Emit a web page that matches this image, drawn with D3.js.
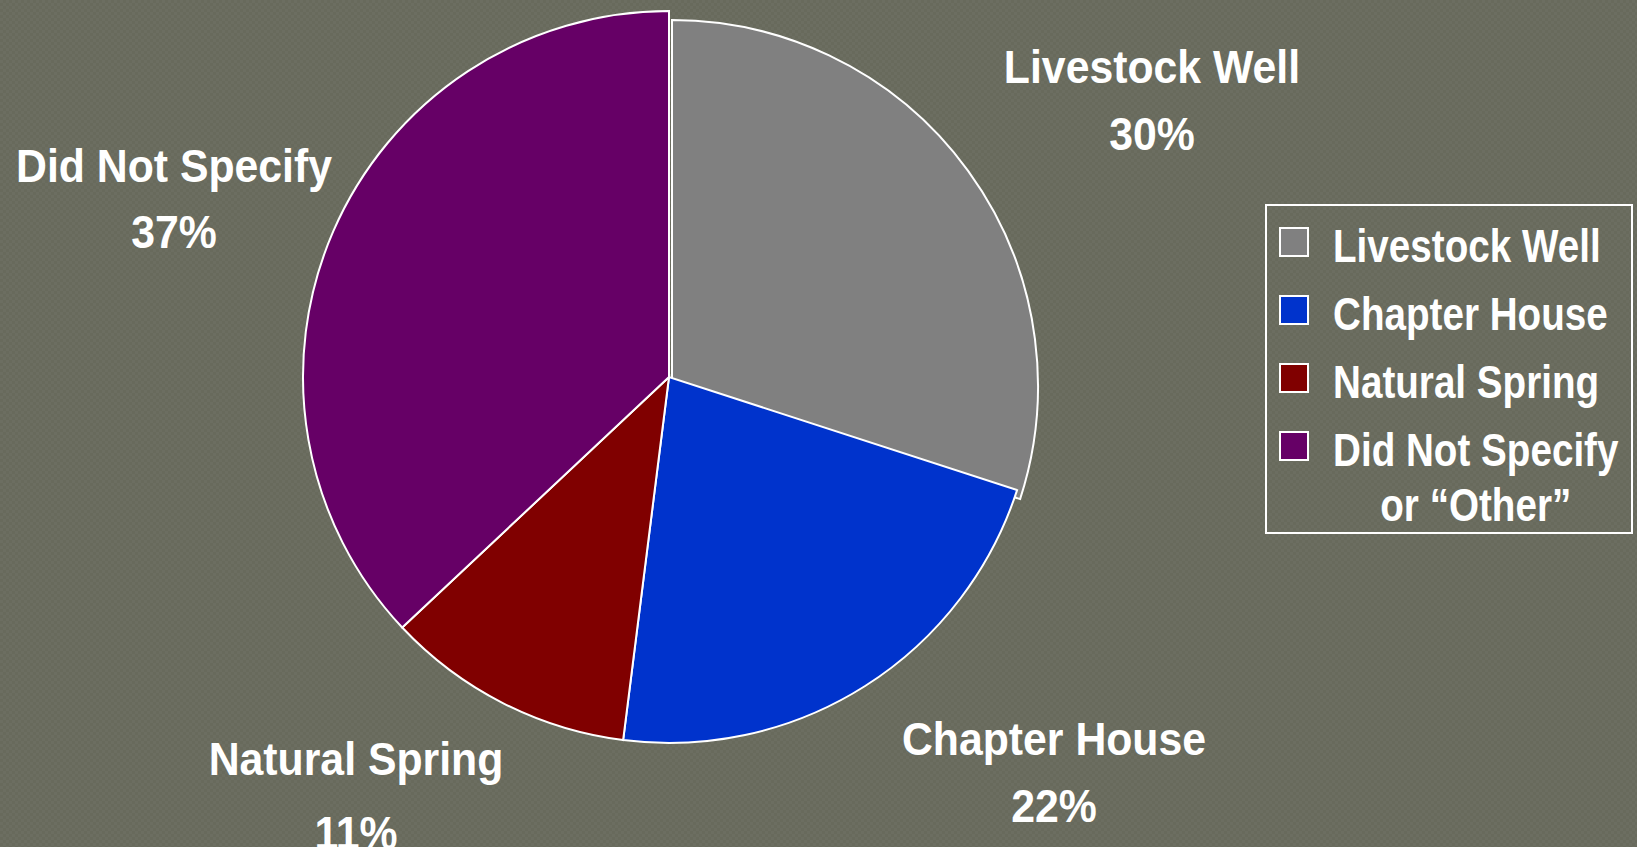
<!DOCTYPE html>
<html>
<head>
<meta charset="utf-8">
<script src="https://cdn.jsdelivr.net/npm/d3@7"></script>
<style>
  html, body { margin: 0; padding: 0; background: #686a5c; }
  svg { display: block; }
</style>
</head>
<body>
<script>
// water source shares
const categories = ["Livestock Well", "Chapter House", "Natural Spring", "Did Not Specify"];
const values = [30, 22, 11, 37];
const colors = ["#808080", "#0033cc", "#800000", "#660066"];
const legendLabels = [["Livestock Well"], ["Chapter House"], ["Natural Spring"], ["Did Not Specify", "or \u201cOther\u201d"]];

const width = 1637;
const height = 847;

const cx = 669, cy = 377, radius = 366;

// where each outside label sits (centre x, first baseline, gap to 2nd line)
const labelPos = {
    "Livestock Well": [1152, 83, 67],
    "Chapter House": [1054, 755, 67],
    "Natural Spring": [356, 775, 74],
    "Did Not Specify": [174, 182, 66]
};

const data = categories.map((c, i) => ({ name: c, value: values[i], color: colors[i] }));

const svg = d3.select("body").append("svg")
    .attr("width", width)
    .attr("height", height);

// faint checker texture of the slide background
const pat = svg.append("defs").append("pattern")
    .attr("id", "bg")
    .attr("width", 6)
    .attr("height", 6)
    .attr("patternUnits", "userSpaceOnUse");
pat.append("rect").attr("width", 6).attr("height", 6).attr("fill", "#686a5c");
pat.append("rect").attr("width", 3).attr("height", 3).attr("fill", "#6c6e61");
pat.append("rect").attr("x", 3).attr("y", 3).attr("width", 3).attr("height", 3).attr("fill", "#6c6e61");

svg.append("rect")
    .attr("width", width)
    .attr("height", height)
    .attr("fill", "url(#bg)");

const pie = d3.pie().sort(null).value(d => d.value);
const arc = d3.arc().innerRadius(0).outerRadius(radius);
const arcs = pie(data);

const g = svg.append("g")
    .attr("transform", `translate(${cx},${cy})`);

// first slice is nudged a little, the others are drawn over it
g.selectAll("path")
    .data(arcs)
    .join("path")
    .attr("d", arc)
    .attr("fill", d => d.data.color)
    .attr("stroke", "#fff")
    .attr("stroke-width", 2)
    .attr("stroke-linejoin", "miter")
    .attr("transform", (d, i) => i === 0 ? "translate(3,9)" : null);

const labels = svg.selectAll(".slice-label")
    .data(data)
    .join("g")
    .attr("class", "slice-label")
    .attr("transform", d => `translate(${labelPos[d.name][0]},${labelPos[d.name][1]}) scale(0.91,1)`);

labels.selectAll("text")
    .data(d => [d.name, d.value + "%"].map((t, i) => ({ t, i, gap: labelPos[d.name][2] })))
    .join("text")
    .attr("text-anchor", "middle")
    .attr("y", d => d.i * d.gap)
    .attr("fill", "#fff")
    .attr("font-family", "'Liberation Sans', Arial, sans-serif")
    .attr("font-weight", "bold")
    .attr("font-size", 47)
    .text(d => d.t);

// legend
const legend = svg.append("g");

legend.append("rect")
    .attr("x", 1266)
    .attr("y", 205)
    .attr("width", 366)
    .attr("height", 328)
    .attr("fill", "none")
    .attr("stroke", "#fff")
    .attr("stroke-width", 2);

const rowY = d3.scalePoint().domain(categories).range([228, 432]);

const rows = legend.selectAll(".row")
    .data(data)
    .join("g")
    .attr("class", "row")
    .attr("transform", d => `translate(1280,${rowY(d.name)})`);

rows.append("rect")
    .attr("width", 28)
    .attr("height", 28)
    .attr("fill", d => d.color)
    .attr("stroke", "#fff")
    .attr("stroke-width", 2);

rows.each(function(d, i) {
    const lines = legendLabels[i];
    const t = d3.select(this).append("g")
        .attr("transform", "translate(53,34) scale(0.84,1)");
    lines.forEach((line, j) => {
        t.append("text")
            .attr("x", j === 0 ? 0 : 170)
            .attr("y", j * 55)
            .attr("text-anchor", j === 0 ? "start" : "middle")
            .attr("fill", "#fff")
            .attr("font-family", "'Liberation Sans', Arial, sans-serif")
            .attr("font-weight", "bold")
            .attr("font-size", 46)
            .text(line);
    });
});
</script>
</body>
</html>
